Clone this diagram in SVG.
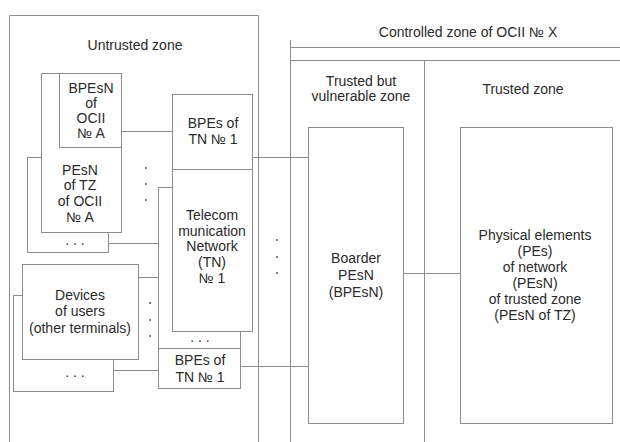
<svg xmlns="http://www.w3.org/2000/svg" width="620" height="442" viewBox="0 0 620 442">
  <style>
    .box { fill: #ffffff; stroke: #8c8c8c; stroke-width: 1; }
    .ln { fill: none; stroke: #8c8c8c; stroke-width: 1; }
    .dot { fill: #555555; }
    text { font-family: "Liberation Sans", Arial, sans-serif; font-size: 14px; fill: #2a2a2a; text-anchor: middle; }
  </style>
  <rect width="620" height="442" fill="#ffffff"/>

  <!-- zone frames -->
  <g id="zones">
    <path class="ln" d="M9.5 442 V15.5 H258.5 V442"/>
    <text x="135" y="50">Untrusted zone</text>
    <path class="ln" d="M290.5 40 V442 M290.5 47.5 H620 M290.5 60.5 H620 M424.5 60.5 V442"/>
    <text x="468" y="37">Controlled zone of OCII № X</text>
    <text x="361" y="86">Trusted but</text>
    <text x="361" y="101">vulnerable zone</text>
    <text x="523" y="94">Trusted zone</text>
  </g>

  <!-- connectors -->
  <g id="connectors">
    <path class="ln" d="M121.5 131.5 H172"/>
    <path class="ln" d="M108.5 243.5 H158"/>
    <path class="ln" d="M138.5 277.5 H172"/>
    <path class="ln" d="M113.5 370.5 H158"/>
    <path class="ln" d="M252.5 157.5 H308"/>
    <path class="ln" d="M240.5 366.5 H308"/>
    <path class="ln" d="M403.5 273.5 H460"/>
  </g>

  <!-- OCII A stack -->
  <g id="ocii-a-more">
    <rect class="box" x="27.5" y="157.5" width="81" height="95"/>
    <text x="75" y="245">. . .</text>
  </g>
  <g id="ocii-a-pesn">
    <rect class="box" x="41.5" y="73.5" width="80" height="159"/>
    <text x="80" y="175">PEsN</text>
    <text x="80" y="190">of TZ</text>
    <text x="80" y="206">of OCII</text>
    <text x="80" y="222">№ A</text>
  </g>
  <g id="ocii-a-bpesn">
    <rect class="box" x="59.5" y="73.5" width="62" height="74"/>
    <text x="91" y="93">BPEsN</text>
    <text x="91" y="108">of</text>
    <text x="91" y="123">OCII</text>
    <text x="91" y="138">№ A</text>
  </g>

  <!-- telecom network stack -->
  <g id="tn-back">
    <rect class="box" x="158.5" y="187.5" width="82" height="161"/>
    <text x="200" y="342">. . .</text>
  </g>
  <g id="tn">
    <rect class="box" x="172.5" y="169.5" width="80" height="162"/>
    <text x="212" y="220">Telecom</text>
    <text x="212" y="236">munication</text>
    <text x="212" y="251">Network</text>
    <text x="212" y="267">(TN)</text>
    <text x="212" y="283">№ 1</text>
  </g>
  <g id="bpes-tn-top">
    <rect class="box" x="172.5" y="94.5" width="80" height="75"/>
    <text x="213" y="128">BPEs of</text>
    <text x="213" y="144">TN № 1</text>
  </g>
  <g id="bpes-tn-bottom">
    <rect class="box" x="158.5" y="348.5" width="82" height="40"/>
    <text x="200" y="365">BPEs of</text>
    <text x="200" y="382">TN № 1</text>
  </g>

  <!-- user devices stack -->
  <g id="devices-more">
    <rect class="box" x="13.5" y="295.5" width="100" height="96"/>
    <text x="75" y="377">. . .</text>
  </g>
  <g id="devices">
    <rect class="box" x="22.5" y="264.5" width="116" height="95"/>
    <text x="80" y="300">Devices</text>
    <text x="80" y="316">of users</text>
    <text x="80" y="333">(other terminals)</text>
  </g>

  <!-- controlled zone nodes -->
  <g id="bpesn">
    <rect class="box" x="308.5" y="127.5" width="95" height="296"/>
    <text x="356" y="263">Boarder</text>
    <text x="356" y="280">PEsN</text>
    <text x="356" y="297">(BPEsN)</text>
  </g>
  <g id="pesn-tz">
    <rect class="box" x="460.5" y="127.5" width="152" height="296"/>
    <text x="535" y="240">Physical elements</text>
    <text x="535" y="256">(PEs)</text>
    <text x="535" y="272">of network</text>
    <text x="535" y="288">(PEsN)</text>
    <text x="535" y="304">of trusted zone</text>
    <text x="535" y="320">(PEsN of TZ)</text>
  </g>

  <!-- vertical ellipses -->
  <g id="ellipses">
    <circle class="dot" cx="146" cy="168" r="1"/>
    <circle class="dot" cx="146" cy="184" r="1"/>
    <circle class="dot" cx="146" cy="200" r="1"/>
    <circle class="dot" cx="150" cy="303" r="1"/>
    <circle class="dot" cx="150" cy="320" r="1"/>
    <circle class="dot" cx="150" cy="336" r="1"/>
    <circle class="dot" cx="277" cy="240" r="1"/>
    <circle class="dot" cx="277" cy="257" r="1"/>
    <circle class="dot" cx="277" cy="273" r="1"/>
  </g>
</svg>
